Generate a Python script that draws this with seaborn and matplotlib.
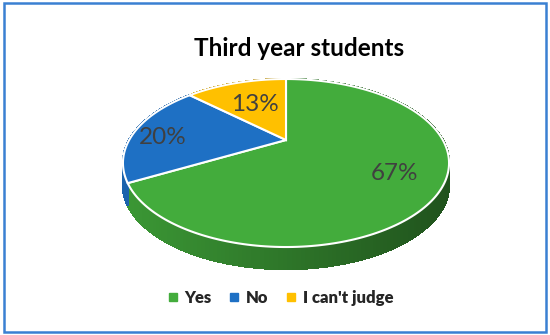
import numpy as np
import matplotlib
matplotlib.use("Agg")
import matplotlib.pyplot as plt
import seaborn as sns
from matplotlib.patches import Rectangle, Polygon
from matplotlib.collections import PolyCollection
from matplotlib.colors import to_rgb
from matplotlib.lines import Line2D

# data
labels = ["Yes", "No", "I can't judge"]
shares = [67, 20, 13]
colors = ["#43ac3c", "#1e70c4", "#ffc000"]

sns.set_theme(style="white")
plt.rcParams["font.family"] = ["Lato", "DejaVu Sans"]

fig = plt.figure(figsize=(5.5, 3.35), dpi=100)
ax = fig.add_axes([0, 0, 1, 1])

# tilted-disc perspective: pie drawn on a unit disc, then projected to pixels
p, sx, sy = 0.274, 156.8, 77.7
cx, cy = 286, 335 - 140
depth = 22


def project(xy):
    x, y = xy[:, 0], xy[:, 1]
    w = 1 + p * y
    return np.column_stack([cx + sx * x / w, cy + sy * y / w])


wedges, texts, autotexts = ax.pie(
    shares, colors=colors, startangle=90, counterclock=False,
    autopct="%d%%", pctdistance=0.75, radius=1,
    textprops=dict(color="#404040", fontsize=17.5))

polys = []
cut_faces, cut_cols = [], []
walls, wall_cols = [], []
for w, c in zip(wedges, colors):
    t = np.radians(np.linspace(w.theta1, w.theta2, 200))
    arc = project(np.column_stack([np.cos(t), np.sin(t)]) * w.r + w.center)
    centre = project(np.array([w.center]))
    polys.append((np.vstack([centre, arc]), w.get_facecolor()))
    base = np.array(to_rgb(c))
    for a, b in zip(arc[:-1], arc[1:]):
        # outer wall shading: lighter on the left, darker on the right
        f = 0.88 - 0.4 * (a[0] - 125) / 325
        walls.append([a, b, b - [0, depth], a - [0, depth]])
        wall_cols.append(np.clip(base * f, 0, 1))
    for e in (arc[0], arc[-1]):
        cut_faces.append([centre[0], e, e - [0, depth], centre[0] - [0, depth]])
        cut_cols.append(base * 0.7)
    w.remove()

ax.add_collection(PolyCollection(cut_faces, facecolors=cut_cols,
                                 edgecolors="none", zorder=1))
ax.add_collection(PolyCollection(walls, facecolors=wall_cols, edgecolors=wall_cols,
                                 linewidths=1.0, antialiaseds=False, zorder=2))
for (verts, fc) in polys:
    ax.add_patch(Polygon(verts, closed=True, facecolor=fc,
                         edgecolor="white", linewidth=1.5, zorder=3))

nudges = [(-5, 0), (-10, -5), (8, -9)]
for t, (dx, dy) in zip(autotexts, nudges):
    x, y = project(np.array([t.get_position()]))[0]
    t.set_position((x + dx, y + dy))
    t.set_zorder(5)

ax.set_aspect("auto")
ax.set_xlim(0, 550)
ax.set_ylim(0, 335)
ax.axis("off")

fig.text(299 / 550, 1 - 48 / 335, "Third year students", ha="center", va="center",
         fontsize=17.5, fontweight="bold", color="black")

handles = [Line2D([0], [0], marker="s", linestyle="", markersize=5.5,
                  markerfacecolor=c, markeredgecolor=c) for c in colors]
fig.legend(handles, labels, loc="center", bbox_to_anchor=(280 / 550, 1 - 298 / 335),
           ncol=3, frameon=False, handlelength=0.7, handletextpad=0.35,
           columnspacing=1.0, prop=dict(weight="heavy", size=12))

fig.patches.append(Rectangle((0.007, 0.009), 0.986, 0.982, transform=fig.transFigure,
                             fill=False, edgecolor="#3a80d2", linewidth=1.8))

fig.savefig("out.png", dpi=100)
